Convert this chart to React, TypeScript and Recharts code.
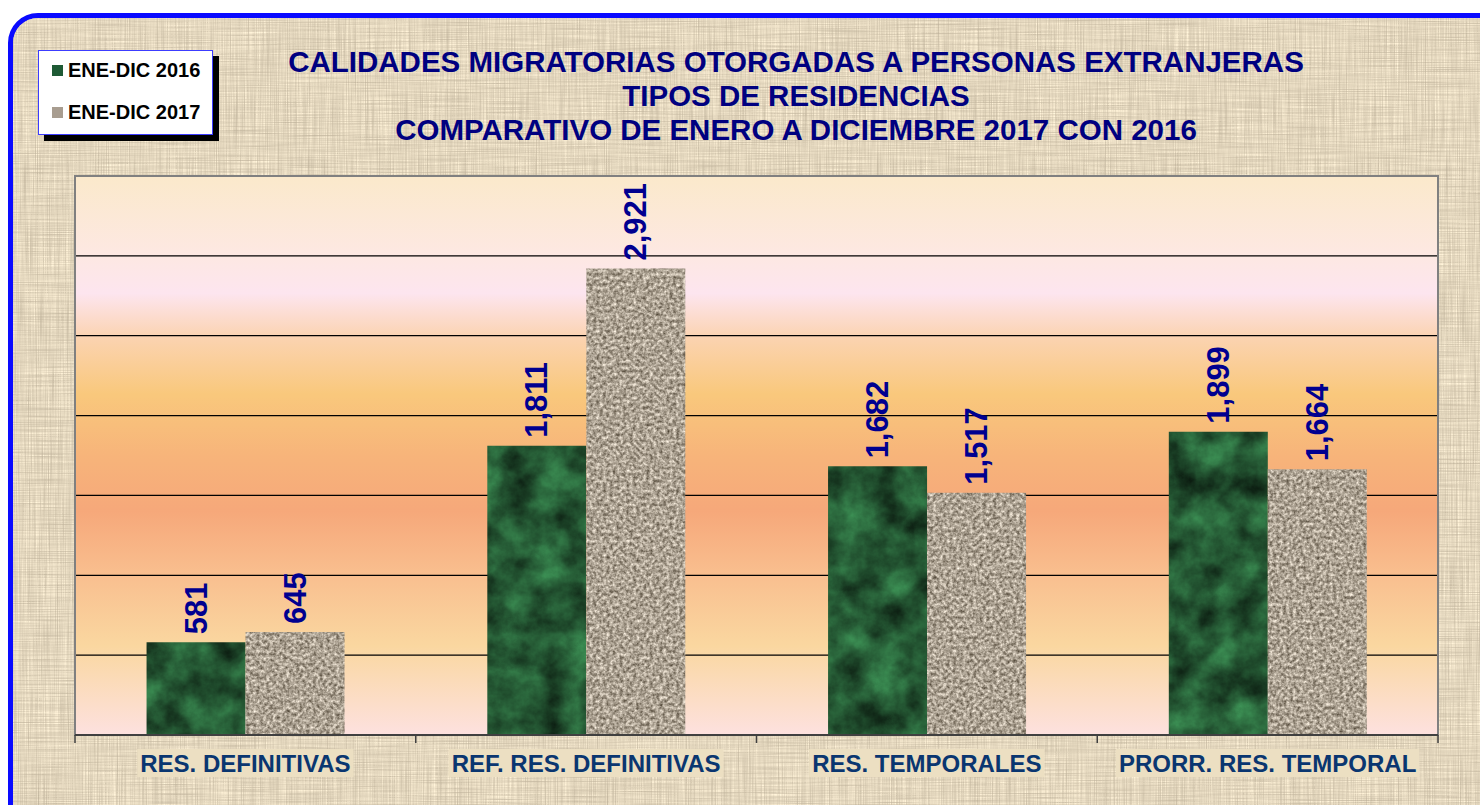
import React from "react";
import {
  BarChart,
  Bar,
  XAxis,
  YAxis,
  CartesianGrid,
  ReferenceArea,
  LabelList,
} from "recharts";

// values
const categories = [
  "RES. DEFINITIVAS",
  "REF. RES. DEFINITIVAS",
  "RES. TEMPORALES",
  "PRORR. RES. TEMPORAL",
];
const values2016 = [581, 1811, 1682, 1899];
const values2017 = [645, 2921, 1517, 1664];
const yTicks = [0, 500, 1000, 1500, 2000, 2500, 3000, 3500];
const seriesNames = ["ENE-DIC 2016", "ENE-DIC 2017"];
const titleLines = [
  "CALIDADES MIGRATORIAS OTORGADAS A PERSONAS EXTRANJERAS",
  "TIPOS DE RESIDENCIAS",
  "COMPARATIVO DE ENERO A DICIEMBRE 2017 CON 2016",
];

const data = categories.map((name, i) => ({
  name,
  y2016: values2016[i],
  y2017: values2017[i],
}));

const W = 1480;
const H = 805;
const PLOT_LEFT = 75;
const PLOT_RIGHT = 1438;
const PLOT_TOP = 176;
const PLOT_BOTTOM = 735;
const X_AXIS_H = 40;
const Y_MAX = yTicks[yTicks.length - 1];
const HALF_BAND = (PLOT_RIGHT - PLOT_LEFT) / categories.length / 2;
const FONT = "'Liberation Sans', Arial, sans-serif";

let measureCtx: CanvasRenderingContext2D | null = null;
function textWidth(t: string, font: string) {
  if (!measureCtx) measureCtx = document.createElement("canvas").getContext("2d");
  if (!measureCtx) return t.length * 14;
  measureCtx.font = font;
  return measureCtx.measureText(t).width;
}

// grid rows at the y ticks, through the y axis scale
const gridRows = (args: any) => {
  const scale = args?.yAxis?.scale;
  const inner = yTicks.slice(1, -1);
  if (typeof scale === "function") return inner.map((t) => scale(t));
  const off = args?.offset;
  return inner.map((t) => off.top + off.height * (1 - t / Y_MAX));
};

const renderValue = (props: any) => {
  const { x, y, width, value } = props;
  const cx = x + width / 2;
  const ty = y - 8;
  return (
    <text
      x={cx}
      y={ty}
      transform={`rotate(-90 ${cx} ${ty})`}
      textAnchor="start"
      dominantBaseline="central"
      fill="#000090"
      fontSize={31}
      fontWeight="bold"
      fontFamily={FONT}
    >
      {Number(value).toLocaleString("en-US")}
    </text>
  );
};

const CategoryTick = (props: any) => {
  const { x, payload, index } = props;
  const label = payload.value as string;
  const w = textWidth(label, `bold 24px ${FONT}`);
  return (
    <g>
      <line x1={x - HALF_BAND} x2={x - HALF_BAND} y1={PLOT_BOTTOM} y2={PLOT_BOTTOM + 8} stroke="#404040" strokeWidth={1.5} />
      {index === categories.length - 1 && (
        <line x1={x + HALF_BAND} x2={x + HALF_BAND} y1={PLOT_BOTTOM} y2={PLOT_BOTTOM + 8} stroke="#404040" strokeWidth={1.5} />
      )}
      <rect x={x - w / 2 - 3} y={PLOT_BOTTOM + 14} width={w + 6} height={28} fill="#ecdfc2" />
      <text
        x={x}
        y={PLOT_BOTTOM + 37}
        textAnchor="middle"
        fill="#0a3670"
        fontSize={24}
        fontWeight="bold"
        fontFamily={FONT}
      >
        {label}
      </text>
    </g>
  );
};

const LegendBox = () => (
  <div style={{ position: "absolute", left: 38, top: 50, width: 175, height: 85 }}>
    <div
      style={{
        position: "absolute",
        left: 6,
        top: 6,
        width: 175,
        height: 85,
        background: "#000",
      }}
    />
    <div
      style={{
        position: "absolute",
        left: 0,
        top: 0,
        width: 173,
        height: 83,
        background: "#fff",
        border: "1px solid #3c3cff",
        fontFamily: FONT,
        fontWeight: "bold",
        fontSize: 20,
        color: "#000",
      }}
    >
      {seriesNames.map((n, i) => (
        <div key={n} style={{ position: "absolute", left: 13, top: 8 + i * 42, display: "flex", alignItems: "center" }}>
          <span
            style={{
              display: "inline-block",
              width: 11,
              height: 11,
              marginRight: 5,
              background: i === 0 ? "#1e5a35" : "#a89d90",
            }}
          />
          {n}
        </div>
      ))}
    </div>
  </div>
);

export default function App() {
  return (
    <div style={{ position: "absolute", left: 0, top: 0, width: W, height: H, overflow: "hidden", background: "#fff" }}>
      {/* linen background + blue rounded frame */}
      <div
        style={{
          position: "absolute",
          left: 8,
          top: 13,
          width: 1520,
          height: 840,
          borderRadius: 30,
          border: "5px solid #0a0aff",
          overflow: "hidden",
          background: "#d8ccb3",
        }}
      >
        <svg width={1520} height={840} style={{ position: "absolute", left: 0, top: 0 }}>
          <defs>
            <filter id="linen" x="0" y="0" width="100%" height="100%" colorInterpolationFilters="sRGB">
              <feTurbulence type="fractalNoise" baseFrequency="0.9 0.015" numOctaves={2} seed={3} result="a" />
              <feTurbulence type="fractalNoise" baseFrequency="0.015 0.9" numOctaves={2} seed={7} result="b" />
              <feBlend in="a" in2="b" mode="multiply" result="c" />
              <feColorMatrix
                in="c"
                type="matrix"
                values="0.4 0 0 0 0.72  0.4 0 0 0 0.67  0.38 0 0 0 0.58  0 0 0 0 1"
              />
            </filter>
          </defs>
          <rect width={1520} height={840} filter="url(#linen)" />
        </svg>
      </div>

      {/* title */}
      <div
        style={{
          position: "absolute",
          left: 0,
          top: 45,
          width: 1592,
          textAlign: "center",
          fontFamily: FONT,
          fontWeight: "bold",
          fontSize: 29.5,
          lineHeight: "34px",
          color: "#000080",
        }}
      >
        {titleLines.map((t) => (
          <div key={t}>{t}</div>
        ))}
      </div>

      <LegendBox />

      <div style={{ position: "absolute", left: 0, top: 0 }}>
        <BarChart
          width={W}
          height={H}
          data={data}
          margin={{ top: PLOT_TOP, left: PLOT_LEFT, right: W - PLOT_RIGHT, bottom: H - PLOT_BOTTOM - X_AXIS_H }}
          barGap={0}
          barCategoryGap="21%"
        >
          <defs>
            <linearGradient id="plotBg" x1="0" y1="0" x2="0" y2="1">
              <stop offset="0" stopColor="#fbe9cb" />
              <stop offset="0.14" stopColor="#fde8e2" />
              <stop offset="0.21" stopColor="#fde5ef" />
              <stop offset="0.29" stopColor="#fbd3b0" />
              <stop offset="0.39" stopColor="#f9c87c" />
              <stop offset="0.5" stopColor="#f7b47a" />
              <stop offset="0.6" stopColor="#f6a87a" />
              <stop offset="0.72" stopColor="#f9c090" />
              <stop offset="0.84" stopColor="#fad7a0" />
              <stop offset="1" stopColor="#fde1df" />
            </linearGradient>
            <filter id="greenNoise" x="0" y="0" width="100%" height="100%" colorInterpolationFilters="sRGB">
              <feTurbulence type="fractalNoise" baseFrequency="0.03" numOctaves={5} seed={11} />
              <feColorMatrix
                type="matrix"
                values="0.25 0 0 0 0.02  0.6 0 0 0 0.05  0.35 0 0 0 0.03  0 0 0 0 1"
              />
            </filter>
            <filter id="graniteNoise" x="0" y="0" width="100%" height="100%" colorInterpolationFilters="sRGB">
              <feTurbulence type="fractalNoise" baseFrequency="0.3" numOctaves={3} seed={5} />
              <feColorMatrix
                type="matrix"
                values="0.85 0 0 0 0.25  0.85 0 0 0 0.21  0.85 0 0 0 0.15  0 0 0 0 1"
              />
            </filter>
            <pattern id="greenTex" patternUnits="userSpaceOnUse" width={W} height={H}>
              <rect width={W} height={H} filter="url(#greenNoise)" />
            </pattern>
            <pattern id="graniteTex" patternUnits="userSpaceOnUse" width={W} height={H}>
              <rect width={W} height={H} filter="url(#graniteNoise)" />
            </pattern>
          </defs>
          <CartesianGrid
            vertical={false}
            stroke="#000"
            strokeWidth={1.2}
            fill="url(#plotBg)"
            fillOpacity={1}
            horizontalCoordinatesGenerator={gridRows}
          />
          <ReferenceArea y1={0} y2={Y_MAX} fill="none" stroke="#808080" strokeWidth={2} ifOverflow="visible" />
          <YAxis
            domain={[0, Y_MAX]}
            ticks={yTicks}
            width={0}
            tick={false}
            tickLine={false}
            axisLine={{ stroke: "#808080", strokeWidth: 2 }}
          />
          <XAxis
            dataKey="name"
            height={X_AXIS_H}
            interval={0}
            tickLine={false}
            axisLine={{ stroke: "#404040", strokeWidth: 2 }}
            tick={<CategoryTick />}
          />
          <Bar dataKey="y2016" name={seriesNames[0]} fill="url(#greenTex)" isAnimationActive={false}>
            <LabelList dataKey="y2016" content={renderValue} />
          </Bar>
          <Bar dataKey="y2017" name={seriesNames[1]} fill="url(#graniteTex)" isAnimationActive={false}>
            <LabelList dataKey="y2017" content={renderValue} />
          </Bar>
        </BarChart>
      </div>
    </div>
  );
}
